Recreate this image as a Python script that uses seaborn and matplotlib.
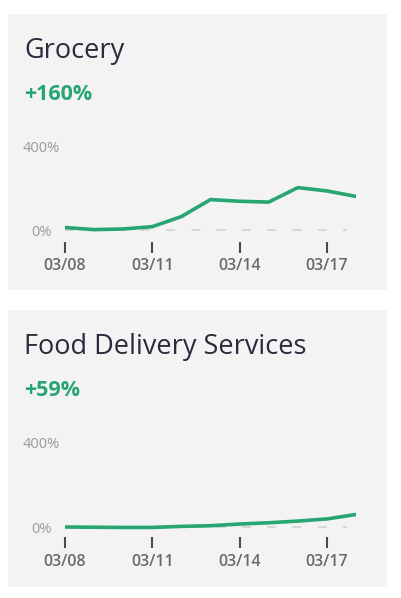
import pandas as pd
import numpy as np
import matplotlib
matplotlib.use("Agg")
import matplotlib.pyplot as plt
import matplotlib.dates as mdates
from matplotlib.patches import Rectangle
import seaborn as sns

# Daily change vs. baseline
dates = pd.date_range("2020-03-08", "2020-03-18", freq="D")
grocery = [12, 2, 5, 16, 64, 145, 137, 133, 202, 186, 160]
food_delivery = [0, -1, -2, -2, 3, 6, 14, 20, 28, 38, 59]

titles = ["Grocery", "Food Delivery Services"]
changes = ["+160%", "+59%"]
tick_dates = ["2020-03-08", "2020-03-11", "2020-03-14", "2020-03-17"]

GREEN = "#27a572"
CARD = "#f3f3f3"
TITLE_COLOR = "#2b2b3b"

W, H = 402, 598


def fx(px):
    return px / W


def fy(py):
    return 1 - py / H


def draw_panel(fig, card_box, axes_box, title, change, values, ylim):
    """Card background, title, big number and the small line chart"""
    cx0, cy0, cx1, cy1 = card_box
    fig.patches.append(Rectangle((fx(cx0), fy(cy1)), fx(cx1 - cx0), (cy1 - cy0) / H,
                                 transform=fig.transFigure, facecolor=CARD,
                                 edgecolor="none", zorder=-5))
    fig.text(fx(24), fy(cy0 + 44), title, fontsize=19.5, color=TITLE_COLOR,
             ha="left", va="baseline")
    fig.text(fx(24), fy(cy0 + 86), change, fontsize=15.5, color=GREEN,
             fontweight="bold", ha="left", va="baseline")

    x0, y0, x1, y1 = axes_box
    ax = fig.add_axes([fx(x0), fy(y1), fx(x1 - x0), (y1 - y0) / H])
    ax.set_zorder(2)
    ax.set_facecolor("none")

    df = pd.DataFrame({"date": dates, "value": values})
    ax.axhline(0, xmin=0, xmax=0.97, color="#d4d4d4", lw=1.3,
               dashes=(5, 9), zorder=1)
    sns.lineplot(data=df, x="date", y="value", ax=ax, color=GREEN,
                 lw=2.6, zorder=3)

    ax.set_xlim(dates[0], dates[-1])
    ax.set_ylim(*ylim)
    ax.set_xlabel("")
    ax.set_ylabel("")
    for side in ["top", "right", "left", "bottom"]:
        ax.spines[side].set_visible(False)

    ax.set_xticks(pd.to_datetime(tick_dates))
    ax.xaxis.set_major_formatter(mdates.DateFormatter("%m/%d"))
    ax.tick_params(axis="x", bottom=True, direction="out", length=8, width=1.5,
                   color="#4a4a4a", pad=4, labelsize=11.5, labelcolor="#6a6a6a")
    for lab in ax.get_xticklabels():
        lab.set_fontweight("semibold")

    ax.set_yticks([0, 400])
    ax.set_yticklabels(["0%", "400%"])
    ax.tick_params(axis="y", left=False, pad=13.5, labelsize=10.5,
                   labelcolor="#9a9a9a")
    for lab in ax.get_yticklabels():
        lab.set_horizontalalignment("center")
    return ax


sns.set_style("white")
plt.rcParams["font.family"] = ["Open Sans", "DejaVu Sans"]

fig = plt.figure(figsize=(W / 100, H / 100), dpi=100)
fig.patch.set_facecolor("white")

draw_panel(fig, (8, 14, 387, 290), (65, 141.8, 356, 241.8),
           titles[0], changes[0], grocery, (-56, 420))
draw_panel(fig, (8, 310, 387, 587), (65, 437.8, 356, 537),
           titles[1], changes[1], food_delivery, (-47, 420))

fig.savefig("out.png", dpi=100)
